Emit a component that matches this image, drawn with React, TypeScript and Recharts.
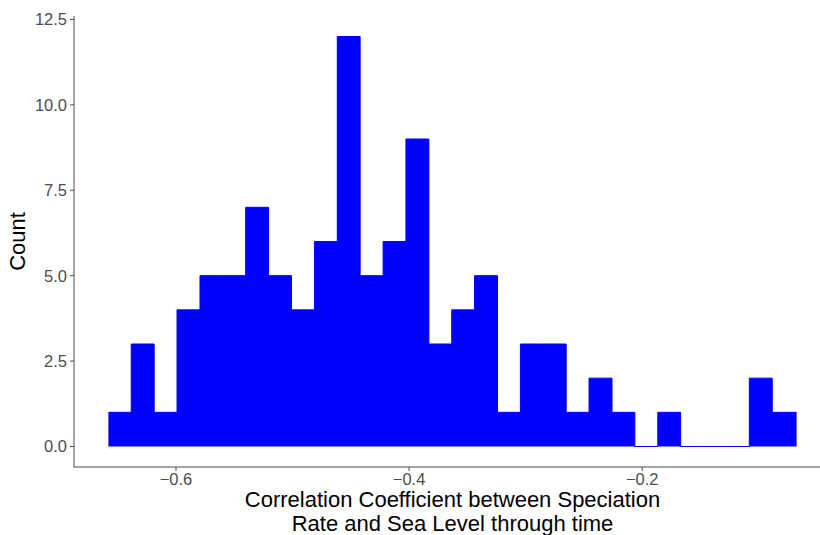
import React from 'react';
import { ComposedChart, Area, XAxis, YAxis, Label } from 'recharts';

// histogram bin edges (31) and counts per bin (30)
const binEdges = [
  -0.658, -0.6384, -0.6187, -0.5991, -0.5794, -0.5598, -0.5402, -0.5205, -0.5009, -0.4812,
  -0.4616, -0.442, -0.4223, -0.4027, -0.383, -0.3634, -0.3438, -0.3241, -0.3045, -0.2848,
  -0.2652, -0.2456, -0.2259, -0.2063, -0.1866, -0.167, -0.1474, -0.1277, -0.1081, -0.0884,
  -0.0675,
];
const binCounts = [
  1, 3, 1, 4, 5, 5, 7, 5, 4, 6,
  12, 5, 6, 9, 3, 4, 5, 1, 3, 3,
  1, 2, 1, 0, 1, 0, 0, 0, 2, 1,
];
const xTicks = [-0.6, -0.4, -0.2];
const yTicks = [0, 2.5, 5, 7.5, 10, 12.5];

const xTitle = ['Correlation Coefficient between Speciation', 'Rate and Sea Level through time'];
const yTitle = 'Count';

const FONT = '"Liberation Sans", Arial, Helvetica, sans-serif';
const GREY = '#4d4d4d';

// step data: each edge carries the count of the bin that starts there
const stepData = binEdges.map((edge, i) => ({
  x: edge,
  count: i < binCounts.length ? binCounts[i] : binCounts[binCounts.length - 1],
}));

const fmtX = (v: number) => (v < 0 ? '\u2212' + Math.abs(v).toFixed(1) : v.toFixed(1));

export default function App() {
  return (
    <div style={{ position: 'absolute', left: 0, top: 0, width: 820, height: 535, overflow: 'hidden', background: '#fff' }}>
      <ComposedChart
        width={832}
        height={535}
        data={stepData}
        margin={{ top: 16, right: 1, left: 0, bottom: 0 }}
        style={{ fontFamily: FONT }}
      >
        <XAxis
          dataKey="x"
          type="number"
          domain={[-0.6875, -0.038]}
          ticks={xTicks}
          tickFormatter={fmtX}
          allowDataOverflow
          height={68}
          stroke={GREY}
          tickSize={4}
          tickMargin={2}
          tick={{ fill: GREY, fontSize: 16.5, fontFamily: FONT }}
        >
          <Label
            content={({ viewBox }: any) => {
              const cx = viewBox.x + viewBox.width / 2;
              return (
                <text textAnchor="middle" fontSize={22} fill="#000" fontFamily={FONT}>
                  <tspan x={cx} y={507}>{xTitle[0]}</tspan>
                  <tspan x={cx} y={531}>{xTitle[1]}</tspan>
                </text>
              );
            }}
          />
        </XAxis>
        <YAxis
          type="number"
          domain={[-0.6, 12.6]}
          ticks={yTicks}
          tickFormatter={(v: number) => v.toFixed(1)}
          allowDataOverflow
          width={74}
          stroke={GREY}
          tickSize={4}
          tickMargin={3}
          tick={{ fill: GREY, fontSize: 16.5, fontFamily: FONT }}
        >
          <Label
            content={({ viewBox }: any) => {
              const cy = viewBox.y + viewBox.height / 2;
              return (
                <text
                  x={25}
                  y={cy}
                  transform={`rotate(-90, 25, ${cy})`}
                  textAnchor="middle"
                  fontSize={22}
                  fill="#000"
                  fontFamily={FONT}
                >
                  {yTitle}
                </text>
              );
            }}
          />
        </YAxis>
        <Area
          type="stepAfter"
          dataKey="count"
          baseValue={0}
          stroke="#0000ff"
          strokeWidth={1}
          fill="#0000ff"
          fillOpacity={1}
          isAnimationActive={false}
          dot={false}
          activeDot={false}
        />
      </ComposedChart>
    </div>
  );
}
